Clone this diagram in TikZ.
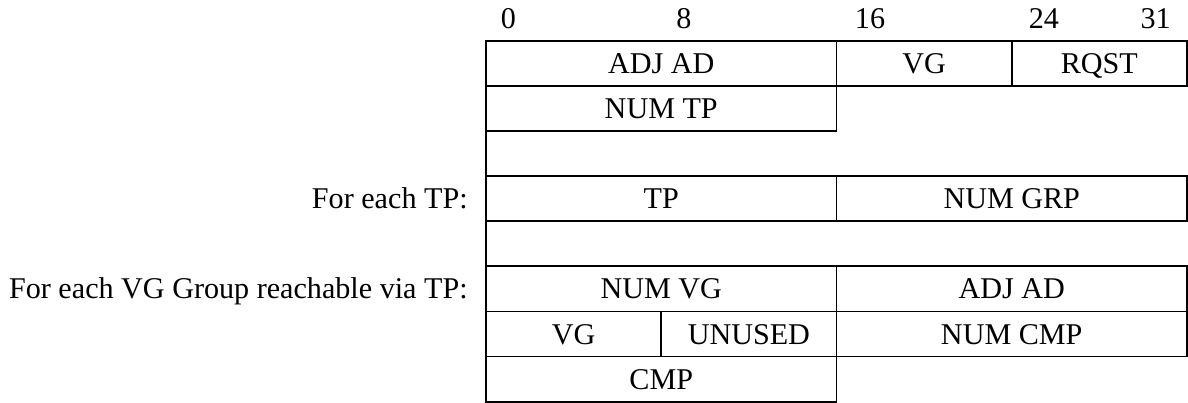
\documentclass[tikz,border=0pt]{standalone}
\usepackage{fontspec}
\setmainfont{Liberation Serif}
\usetikzlibrary{positioning}
\tikzset{
  field/.style={rectangle, draw=black, line width=1.1pt,
    font=\fontsize{19}{23}\selectfont, minimum height=1cm,
    text height=12.6pt, text depth=0pt, inner sep=0pt, outer sep=0pt},
  bits/.style={minimum width=#1*0.48546cm},
  bitno/.style={font=\fontsize{19}{23}\selectfont, anchor=base, inner sep=0pt},
  rowlbl/.style={font=\fontsize{19}{23}\selectfont, anchor=east,
    text height=12.6pt, text depth=0pt, inner sep=0pt},
  gapline/.style={draw=black, line width=1.1pt},
}

\begin{document}
\begin{tikzpicture}[x=0.48546cm, y=1cm]
\useasboundingbox (-22.186,0.902) rectangle (32.046,-8.007);

% ---------- bit numbers ----------
\foreach \b/\x in {0/1.02, 8/9.03, 16/17.53, 24/25.47, 31/30.57}
  \node[bitno] (bit\b) at (\x,0.275) {\b};

% ---------- header ----------
\node[field, bits=16, anchor=north west] (adjad) at (0,0) {ADJ AD};
\node[field, bits=8, right=0pt of adjad] (vg) {VG};
\node[field, bits=8, right=0pt of vg] (rqst) {RQST};
\node[field, bits=16, below=0pt of adjad] (numtp) {NUM TP};

% ---------- per TP ----------
\node[field, bits=16, anchor=north west] (tp) at (0,-3) {TP};
\node[field, bits=16, right=0pt of tp] (numgrp) {NUM GRP};
\node[rowlbl, left=0.4cm of tp] (tp-lbl) {For each TP:};

% ---------- per VG group ----------
\node[field, bits=16, anchor=north west] (numvg) at (0,-5) {NUM VG};
\node[field, bits=16, right=0pt of numvg] (grpadj) {ADJ AD};
\node[field, bits=8, anchor=north west] (grpvg) at (numvg.south west) {VG};
\node[field, bits=8, right=0pt of grpvg] (unused) {UNUSED};
\node[field, bits=16, right=0pt of unused] (numcmp) {NUM CMP};
\node[field, bits=16, anchor=north west] (cmp) at (grpvg.south west) {CMP};
\node[rowlbl, left=0.4cm of numvg] (grp-lbl) {For each VG Group reachable via TP:};

% left edge through the empty rows
\draw[gapline] (numtp.south west) -- (tp.north west);
\draw[gapline] (tp.south west) -- (numvg.north west);

\end{tikzpicture}
\end{document}
